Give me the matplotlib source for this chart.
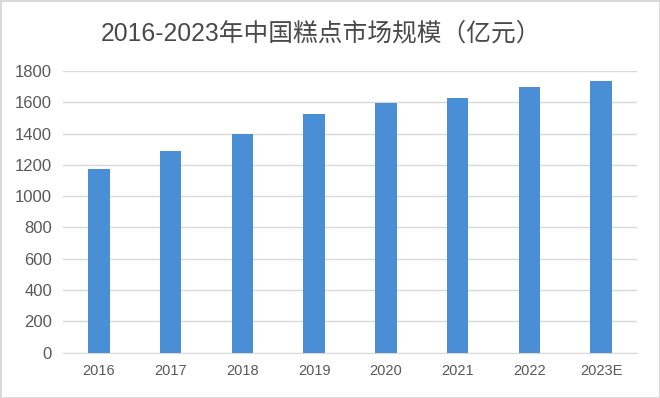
import matplotlib
matplotlib.use('Agg')
import matplotlib.pyplot as plt
import numpy as np

plt.rcParams['font.family'] = ['Liberation Sans', 'Noto Sans CJK SC', 'DejaVu Sans']

years = ['2016', '2017', '2018', '2019', '2020', '2021', '2022', '2023E']
market_size = [1171, 1288, 1395, 1523, 1597, 1629, 1700, 1736]
title = '2016-2023年中国糕点市场规模（亿元）'

fig = plt.figure(figsize=(6.6, 3.98), dpi=100)
fig.patch.set_edgecolor('#d9d9d9')
fig.patch.set_linewidth(2)
ax = fig.add_axes([0.0955, 0.1143, 0.8695, 0.7073])

x = np.arange(len(years))
ax.bar(x, market_size, width=0.3, color='#4a8fd6', zorder=3)

ax.set_xlim(-0.5, len(years) - 0.5)
ax.set_ylim(0, 1800)
ax.set_yticks(np.arange(0, 1801, 200))
ax.set_xticks(x)
ax.set_xticklabels(years)
ax.grid(axis='y', color='#d9d9d9', linewidth=1, zorder=0)
for s in ['top', 'right', 'left']:
    ax.spines[s].set_visible(False)
ax.spines['bottom'].set_color('#d9d9d9')
ax.tick_params(axis='both', length=0, colors='#595959')
ax.tick_params(axis='y', labelsize=12, pad=8)
ax.tick_params(axis='x', labelsize=10.5, pad=8)

fig.text(0.486, 0.917, title, ha='center', va='center', fontsize=17.8,
         color='#4a4a4a', family=['Liberation Sans', 'Noto Sans CJK SC'])

fig.savefig('out.png', dpi=100, edgecolor=fig.get_edgecolor())
